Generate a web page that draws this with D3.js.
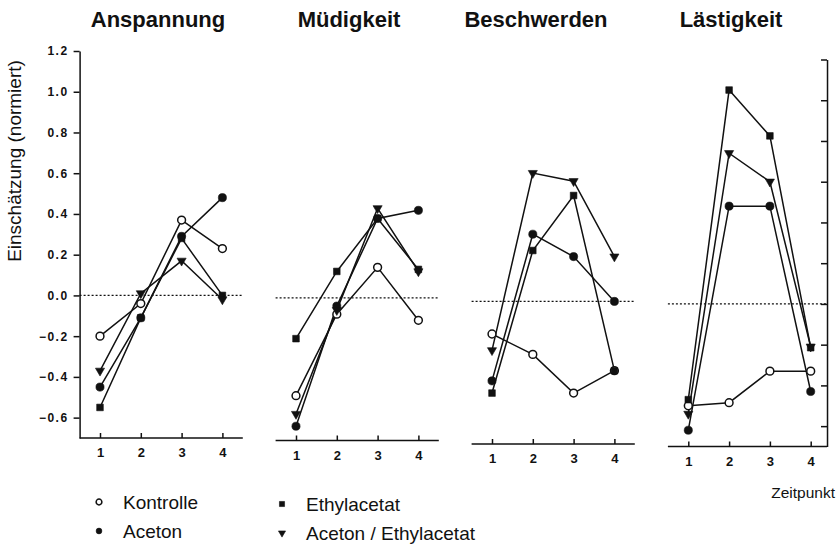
<!DOCTYPE html>
<html lang="de">

<head>
  <meta charset="UTF-8">
  <title>Einschätzung (normiert)</title>
  <script src="https://d3js.org/d3.v7.min.js"></script>
  <style>
    body {
      margin: 0;
      background: #fff;
    }

    text {
      font-family: "Liberation Sans", Arial, Helvetica, sans-serif;
      fill: #111;
    }

    .axis path,
    .axis line {
      stroke: #111;
      stroke-width: 1.5;
    }

    .axis text {
      font-size: 12px;
      font-weight: bold;
    }
  </style>
</head>

<body>
  <script>
    // Werte
    const panels = ["Anspannung", "Müdigkeit", "Beschwerden", "Lästigkeit"];
    const zeitpunkte = [1, 2, 3, 4];
    const yTicks = [-0.6, -0.4, -0.2, 0.0, 0.2, 0.4, 0.6, 0.8, 1.0, 1.2];

    // je Panel: Werte für Zeitpunkt 1..4
    const kontrolle = [
      [-0.20, -0.04, 0.37, 0.23],
      [-0.48, -0.08, 0.15, -0.11],
      [-0.16, -0.26, -0.45, -0.34],
      [-0.50, -0.485, -0.33, -0.33]
    ];
    const aceton = [
      [-0.45, -0.11, 0.29, 0.48],
      [-0.63, -0.04, 0.39, 0.43],
      [-0.39, 0.33, 0.22, 0.00],
      [-0.62, 0.48, 0.48, -0.43]
    ];
    const ethylacetat = [
      [-0.55, -0.11, 0.28, 0.00],
      [-0.20, 0.13, 0.39, 0.14],
      [-0.45, 0.25, 0.52, -0.34],
      [-0.47, 1.05, 0.825, -0.215]
    ];
    const acetonEthylacetat = [
      [-0.37, 0.01, 0.17, -0.02],
      [-0.57, -0.06, 0.44, 0.13],
      [-0.24, 0.63, 0.59, 0.22],
      [-0.54, 0.74, 0.60, -0.21]
    ];

    const series = [
      { name: "Kontrolle", values: kontrolle, marker: "open" },
      { name: "Aceton", values: aceton, marker: "circle" },
      { name: "Ethylacetat", values: ethylacetat, marker: "square" },
      { name: "Aceton / Ethylacetat", values: acetonEthylacetat, marker: "triangle" }
    ];

    const svgWidth = 837;
    const svgHeight = 549;
    const ink = "#111";

    // Scan ist leicht verschoben: jedes Panel etwas tiefer
    const panelX = [100, 296, 492, 688.3];
    const panelDy = [0, 2.5, 6, 8.5];
    const titleX = [158, 349, 536, 731];
    const step = 40.8;

    const svg = d3.select("body").append("svg")
      .attr("width", svgWidth)
      .attr("height", svgHeight);

    const y = d3.scaleLinear()
      .domain([-0.7, 1.2])
      .range([438, 51]);

    function markerPath(type, size) {
      const sym = {
        open: d3.symbolCircle,
        circle: d3.symbolCircle,
        square: d3.symbolSquare,
        triangle: d3.symbolTriangle
      }[type];
      return d3.symbol().type(sym).size(size)();
    }

    function drawMarker(sel, type, size) {
      sel.append("path")
        .attr("d", markerPath(type, size))
        .attr("transform", type === "triangle" ? "rotate(180)" : null)
        .attr("fill", type === "open" ? "#fff" : ink)
        .attr("stroke", ink)
        .attr("stroke-width", type === "open" ? 1.5 : 0.6);
    }

    const markerSize = { open: 48, circle: 52, square: 44, triangle: 36 };

    panels.forEach((title, i) => {
      const x0 = panelX[i];
      const x = d3.scaleLinear()
        .domain([0.5, 4.5])
        .range([x0 - step / 2, x0 + step * 3.5]);

      const g = svg.append("g")
        .attr("transform", "translate(0," + panelDy[i] + ")");

      const xEnd = i === 3 ? x(4.4) : x(4.5);

      // Nulllinie gepunktet
      g.append("line")
        .attr("x1", x(0.5))
        .attr("x2", xEnd)
        .attr("y1", y(0))
        .attr("y2", y(0))
        .attr("stroke", ink)
        .attr("stroke-width", 1.2)
        .attr("stroke-dasharray", "2,2");

      // x-Achse
      const xAxis = d3.axisBottom(x)
        .tickValues(zeitpunkte)
        .tickSize(-5)
        .tickSizeOuter(0)
        .tickPadding(10)
        .tickFormat(d3.format("d"));

      const gx = g.append("g")
        .attr("class", "axis")
        .attr("transform", "translate(0," + y(-0.7) + ")")
        .call(xAxis);
      gx.select(".domain").attr("d", "M" + x(0.5) + ",0H" + xEnd);
      gx.selectAll("text").style("font-size", "13px");

      if (i === 0) {
        const yAxis = d3.axisLeft(y)
          .tickValues(yTicks)
          .tickSize(6)
          .tickSizeOuter(0)
          .tickPadding(5)
          .tickFormat(d3.format(".1f"));
        g.append("g")
          .attr("class", "axis")
          .attr("transform", "translate(" + x(0.5) + ",0)")
          .call(yAxis)
          .selectAll("text")
          .attr("letter-spacing", "1.5px");
      }

      if (i === 3) {
        // rechte Achse ohne Beschriftung
        const yAxisR = d3.axisRight(y)
          .tickValues(yTicks)
          .tickSize(-6)
          .tickSizeOuter(0)
          .tickFormat("");
        g.append("g")
          .attr("class", "axis")
          .attr("transform", "translate(" + xEnd + ",0)")
          .call(yAxisR);
      }

      // Titel
      svg.append("text")
        .attr("x", titleX[i])
        .attr("y", 27)
        .attr("text-anchor", "middle")
        .attr("font-size", "22px")
        .attr("font-weight", "bold")
        .text(title);

      // Linien
      const line = d3.line()
        .x((d, j) => x(zeitpunkte[j]))
        .y(d => y(d));

      series.forEach(s => {
        g.append("path")
          .datum(s.values[i])
          .attr("d", line)
          .attr("fill", "none")
          .attr("stroke", ink)
          .attr("stroke-width", 1.5);
      });

      // Marker
      series.forEach(s => {
        s.values[i].forEach((v, j) => {
          const m = g.append("g")
            .attr("transform", "translate(" + x(zeitpunkte[j]) + "," + y(v) + ")");
          drawMarker(m, s.marker, markerSize[s.marker]);
        });
      });
    });

    // y-Achsentitel
    svg.append("text")
      .attr("transform", "translate(21,161) rotate(-90)")
      .attr("text-anchor", "middle")
      .attr("font-size", "19px")
      .text("Einschätzung (normiert)");

    // x-Achsentitel
    svg.append("text")
      .attr("x", 835)
      .attr("y", 498)
      .attr("text-anchor", "end")
      .attr("font-size", "15.5px")
      .text("Zeitpunkt");

    // Legende
    const legendPos = [
      { x: 99, y: 502 },
      { x: 99, y: 531 },
      { x: 282, y: 504 },
      { x: 282, y: 533 }
    ];

    series.forEach((s, k) => {
      const p = legendPos[k];
      const lg = svg.append("g")
        .attr("transform", "translate(" + p.x + "," + p.y + ")");
      drawMarker(lg, s.marker, s.marker === "triangle" ? 22 : 26);
      svg.append("text")
        .attr("x", p.x + 24)
        .attr("y", p.y + 6.5)
        .attr("font-size", "19px")
        .text(s.name);
    });
  </script>
</body>

</html>
